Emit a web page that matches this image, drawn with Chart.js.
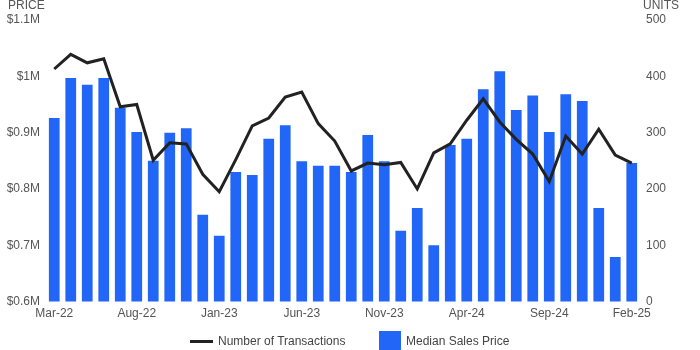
<!DOCTYPE html>
<html>
<head>
<meta charset="utf-8">
<script src="https://cdn.jsdelivr.net/npm/chart.js@4/dist/chart.umd.min.js"></script>
<style>
  html, body { margin: 0; padding: 0; background: #fff; }
  #wrap { position: relative; width: 700px; height: 350px; }
  #legend {
    position: absolute; left: 0; top: 331px; width: 700px; height: 20px;
    font: 12px "Liberation Sans", Arial, sans-serif; color: #444;
  }
  .item { position: absolute; top: 0; height: 20px; line-height: 20px; white-space: nowrap; }
  .swatch-line { position: absolute; top: 9px; width: 23px; height: 3px; background: #222; }
  .swatch-box { position: absolute; top: 0; width: 22px; height: 20px; background: #2166f6; }
</style>
</head>
<body>
<div id="wrap">
  <canvas id="chart" width="700" height="350"></canvas>
  <div id="legend">
    <div class="swatch-line" style="left:190px"></div>
    <div class="item" style="left:218px">Number of Transactions</div>
    <div class="swatch-box" style="left:379px"></div>
    <div class="item" style="left:406px">Median Sales Price</div>
  </div>
</div>
<script>
// Monthly series, Mar-22 through Feb-25
const months = [
  'Mar-22', 'Apr-22', 'May-22', 'Jun-22', 'Jul-22', 'Aug-22', 'Sep-22', 'Oct-22', 'Nov-22', 'Dec-22',
  'Jan-23', 'Feb-23', 'Mar-23', 'Apr-23', 'May-23', 'Jun-23', 'Jul-23', 'Aug-23', 'Sep-23', 'Oct-23', 'Nov-23', 'Dec-23',
  'Jan-24', 'Feb-24', 'Mar-24', 'Apr-24', 'May-24', 'Jun-24', 'Jul-24', 'Aug-24', 'Sep-24', 'Oct-24', 'Nov-24', 'Dec-24',
  'Jan-25', 'Feb-25'
];

// Median sales price, in $ millions
const medianPrice = [
  0.926, 0.997, 0.985, 0.997, 0.944, 0.901, 0.850, 0.900, 0.908, 0.754,
  0.717, 0.830, 0.825, 0.889, 0.913, 0.849, 0.841, 0.841, 0.830, 0.896, 0.849, 0.726,
  0.766, 0.700, 0.878, 0.889, 0.977, 1.009, 0.940, 0.966, 0.901, 0.968, 0.956, 0.766,
  0.679, 0.846
];

// Number of transactions (units)
const transactions = [
  413, 439, 424, 431, 346, 350, 251, 282, 280, 226,
  195, 252, 312, 326, 363, 372, 316, 285, 232, 246, 243, 247,
  200, 264, 280, 322, 360, 319, 288, 262, 213, 294, 262, 306,
  260, 246
];

const LABEL_EVERY = 5; // one month label every five bars

const priceTicks = { min: 0.6, max: 1.1, step: 0.1 };
const unitTicks = { min: 0, max: 500, step: 100 };

const FONT = '"Liberation Sans", Arial, sans-serif';
const TICK_COLOR = '#555';

// Captions over each value axis
const axisCaptions = {
  id: 'axisCaptions',
  afterDraw(chart) {
    const ctx = chart.ctx;
    ctx.save();
    ctx.font = '12px ' + FONT;
    ctx.fillStyle = TICK_COLOR;
    ctx.textBaseline = 'alphabetic';
    ctx.textAlign = 'left';
    ctx.fillText('PRICE', 8, 9);
    ctx.fillText('UNITS', 643, 9);
    ctx.restore();
  }
};

new Chart(document.getElementById('chart'), {
  data: {
    labels: months,
    datasets: [
      {
        type: 'line',
        label: 'Number of Transactions',
        data: transactions,
        yAxisID: 'yUnits',
        borderColor: '#222',
        borderWidth: 3,
        pointRadius: 0,
        tension: 0,
        order: 0
      },
      {
        type: 'bar',
        label: 'Median Sales Price',
        data: medianPrice,
        yAxisID: 'yPrice',
        backgroundColor: '#2166f6',
        barPercentage: 0.65,
        categoryPercentage: 1,
        order: 1
      }
    ]
  },
  options: {
    responsive: false,
    animation: false,
    layout: { padding: { top: 20, bottom: 24, left: 0, right: 0 } },
    plugins: {
      legend: { display: false },
      tooltip: { enabled: false }
    },
    scales: {
      x: {
        grid: { display: false, drawTicks: false },
        border: { display: false },
        afterBuildTicks: scale => {
          scale.ticks = scale.ticks.filter(t => t.value % LABEL_EVERY === 0);
        },
        ticks: {
          autoSkip: false,
          maxRotation: 0,
          padding: 5,
          color: '#545454',
          font: { family: FONT, size: 12 }
        }
      },
      yPrice: {
        position: 'left',
        min: priceTicks.min,
        max: priceTicks.max,
        grid: { display: false, drawTicks: false },
        border: { display: false },
        ticks: {
          stepSize: priceTicks.step,
          padding: 6,
          color: TICK_COLOR,
          font: { family: FONT, size: 12 },
          callback: v => '$' + (+v.toFixed(1)) + 'M'
        },
        afterFit: scale => { scale.width = 46; }
      },
      yUnits: {
        position: 'right',
        min: unitTicks.min,
        max: unitTicks.max,
        grid: { display: false, drawTicks: false },
        border: { display: false },
        ticks: {
          stepSize: unitTicks.step,
          padding: 6,
          color: TICK_COLOR,
          font: { family: FONT, size: 12 }
        },
        afterFit: scale => { scale.width = 60; }
      }
    }
  },
  plugins: [axisCaptions]
});
</script>
</body>
</html>
